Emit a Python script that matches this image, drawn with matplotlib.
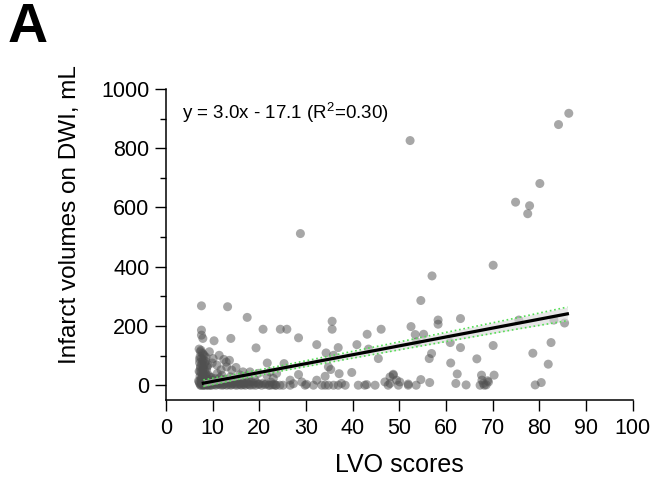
import matplotlib
matplotlib.use('Agg')
import matplotlib.pyplot as plt
import numpy as np

plt.rcParams['font.family'] = ['Liberation Sans', 'DejaVu Sans']
plt.rcParams['mathtext.fontset'] = 'custom'
plt.rcParams['mathtext.rm'] = 'Liberation Sans'

# LVO score vs. DWI infarct volume (mL)
lvo = [
    # dense column of low scores
    7.1, 7.4, 7.8, 8.2, 7.3, 7.6, 8.0, 8.5, 7.2, 7.7, 8.1, 8.8, 7.4, 7.9, 8.3, 7.1, 7.6, 8.0, 8.6, 9.2,
    7.3, 7.8, 8.2, 8.9, 7.5, 7.0, 7.7, 8.4, 9.0, 7.2, 7.9, 8.5, 9.4, 7.4, 8.1, 8.7, 7.6, 8.3, 9.1, 9.7,
    7.5, 8.0, 8.6, 7.2, 7.8, 8.3, 9.0, 7.4, 8.0, 8.7, 7.3, 7.9, 8.5, 9.3, 7.6, 8.2, 8.9, 7.1, 7.7, 8.4,
    9.6, 10.2, 7.5, 8.1, 8.8,
    # low-volume strip
    9.8, 10.3, 10.7, 11.2, 11.6, 12.1, 12.5, 13.0, 13.4, 13.9, 14.3, 14.8, 15.2, 15.7, 16.1, 16.6, 17.0,
    17.5, 18.0, 18.6, 19.2, 19.8, 20.5, 21.2, 22.0, 22.8, 23.6, 24.4,
    10.0, 10.9, 11.8, 12.7, 13.6, 14.5, 15.5, 16.4, 17.3, 18.3, 19.4, 20.8, 22.5,
    10.5, 11.5, 12.6, 13.8, 15.0, 16.2, 17.7, 19.0,
    10.6, 11.4, 12.3, 13.2, 14.1, 15.0, 15.9, 16.8, 17.8, 18.8, 20.0, 21.5, 23.2, 9.0, 9.5, 8.0,
    # scattered low scores
    10.1, 11.4, 12.4, 13.6, 10.9, 13.0, 14.1, 15.0, 10.3, 13.9, 9.3, 11.0, 12.0, 16.5, 18.0, 19.8, 21.6,
    23.7, 17.2, 11.8, 9.9, 15.8, 12.9, 7.6, 7.6, 7.9, 7.6, 13.2, 17.4, 20.8, 24.5, 25.9, 19.3, 28.8,
    # mid scores
    28.4, 32.3, 35.6, 35.6, 36.9, 34.3, 35.9, 43.1, 46.1, 40.9, 43.4, 45.5, 25.3, 21.7, 34.8, 35.3, 39.8,
    28.4, 37.1, 34.1, 22.3, 23.0, 26.6, 29.1, 48.7, 48.0, 46.9, 32.3, 48.7,
    22.3, 23.4, 25.1, 26.6, 29.8, 31.6, 33.4, 34.1, 34.8, 35.9, 36.9, 38.4, 41.2, 42.6, 44.8, 47.6, 49.8,
    27.3, 30.1, 37.6, 43.0, 51.9,
    # high scores
    52.3, 86.3, 84.1, 80.1, 74.9, 77.9, 77.5, 70.1, 57.0, 54.6, 52.5, 53.4, 55.2, 58.3, 58.3, 63.1, 60.9,
    63.1, 56.9, 56.4, 61.0, 66.6, 70.1, 75.6, 83.1, 85.4, 82.5, 78.6, 81.9, 62.4, 67.6, 70.3, 54.6, 56.5,
    51.9, 53.6, 62.1, 64.3, 67.3, 68.0, 68.6, 68.9, 67.7, 79.1, 80.4, 50.1, 53.7, 49.4, 48.0, 69.1, 68.2,
]
vol = [
    122, 113, 108, 100, 96, 90, 86, 80, 76, 71, 66, 62, 58, 54, 50, 47, 43, 40, 36, 33,
    30, 27, 24, 21, 18, 15, 12, 10, 8, 6, 4, 2, 1, 0, 0, 0, 3, 5, 14, 26,
    118, 104, 94, 88, 82, 74, 68, 64, 56, 52, 45, 38, 31, 28, 23, 17, 19, 11, 7, 3,
    8, 16, 0, 1, 2,
    0, 2, 0, 3, 1, 0, 4, 0, 2, 0, 5, 1, 0, 3, 0, 2, 0,
    4, 0, 1, 0, 3, 0, 2, 0, 1, 0, 0,
    10, 12, 8, 14, 9, 11, 13, 8, 10, 12, 9, 7, 10,
    22, 25, 20, 28, 18, 24, 21, 19,
    5, 6, 2, 7, 3, 6, 4, 5, 3, 6, 4, 5, 3, 0, 0, 0,
    90, 101, 87, 84, 68, 62, 51, 60, 150, 158, 113, 40, 33, 45, 45, 40, 34,
    40, 30, 52, 75, 35, 78, 268, 186, 158, 169, 265, 229, 189, 189, 189, 126, 512,
    160, 137, 216, 189, 127, 109, 101, 172, 189, 137, 122, 90, 73, 75, 62, 53, 43,
    36, 39, 30, 45, 23, 17, 11, 34, 28, 11, 17, 37,
    0, 0, 0, 0, 0, 0, 0, 0, 0, 0, 0, 0, 0, 0, 0, 0, 0,
    5, 3, 6, 2, 4,
    826, 918, 880, 681, 618, 606, 579, 405, 369, 286, 198, 171, 172, 220, 206, 225, 144,
    127, 107, 90, 75, 89, 134, 220, 220, 210, 144, 108, 71, 38, 34, 34, 19, 9,
    0, 0, 6, 1, 0, 6, 1, 15, 17, 1, 9, 11, 146, 17, 6, 11, 0,
]

slope = 3.0
intercept = -17.1
fit_x = [8, 86]

# 95% confidence band half-widths along the fit
band_x = [8, 15, 25, 35, 48, 60, 75, 86]
band_half = [11, 9.5, 9, 10.5, 13, 15.5, 19, 23]

fig = plt.figure(figsize=(6.55, 4.87), dpi=100)
ax = fig.add_axes([0.2534, 0.1786, 0.7126, 0.6386])

ax.scatter(lvo, vol, s=42, color='#505050', alpha=0.5, edgecolors='none', zorder=2)

bx = np.array(band_x, dtype=float)
line_b = slope * bx + intercept
lo = line_b - np.array(band_half)
hi = line_b + np.array(band_half)
ax.fill_between(bx, lo, hi, color='#d8d8d8', alpha=0.6, lw=0, zorder=3)
ax.plot(bx, lo, ls=':', color='#55dd55', lw=1.2, zorder=4)
ax.plot(bx, hi, ls=':', color='#55dd55', lw=1.2, zorder=4)

fx = np.array(fit_x, dtype=float)
ax.plot(fx, slope * fx + intercept, color='black', lw=2.3, zorder=5)

ax.text(3.4, 920, r'y = 3.0x - 17.1 (R$^{2}$=0.30)', fontsize=13.5, va='center', ha='left')

ax.set_xlim(0, 100)
ax.set_ylim(-50, 1000)
ax.set_xticks(np.arange(0, 101, 10))
ax.set_yticks(np.arange(0, 1001, 200))
ax.set_yticks(np.arange(100, 1000, 200), minor=True)

for side in ('top', 'right'):
    ax.spines[side].set_visible(False)
for side in ('left', 'bottom'):
    ax.spines[side].set_linewidth(1.1)

ax.tick_params(axis='both', which='major', direction='out', length=8, width=1.0,
               labelsize=15.5, color='black')
ax.tick_params(axis='y', which='major', pad=4)
ax.tick_params(axis='x', which='major', pad=5)
ax.tick_params(axis='y', which='minor', direction='out', length=4.3, width=1.0)

fig.text(70 / 655, 1 - 215 / 487, 'Infarct volumes on DWI, mL', rotation=90,
         ha='center', va='center', fontsize=17.5)
fig.text(399 / 655, 1 - 465 / 487, 'LVO scores', ha='center', va='center', fontsize=18)
fig.text(8 / 655, 1 - 28 / 487, 'A', fontsize=40, fontweight='bold', ha='left', va='center')

plt.savefig('out.png', dpi=100)
